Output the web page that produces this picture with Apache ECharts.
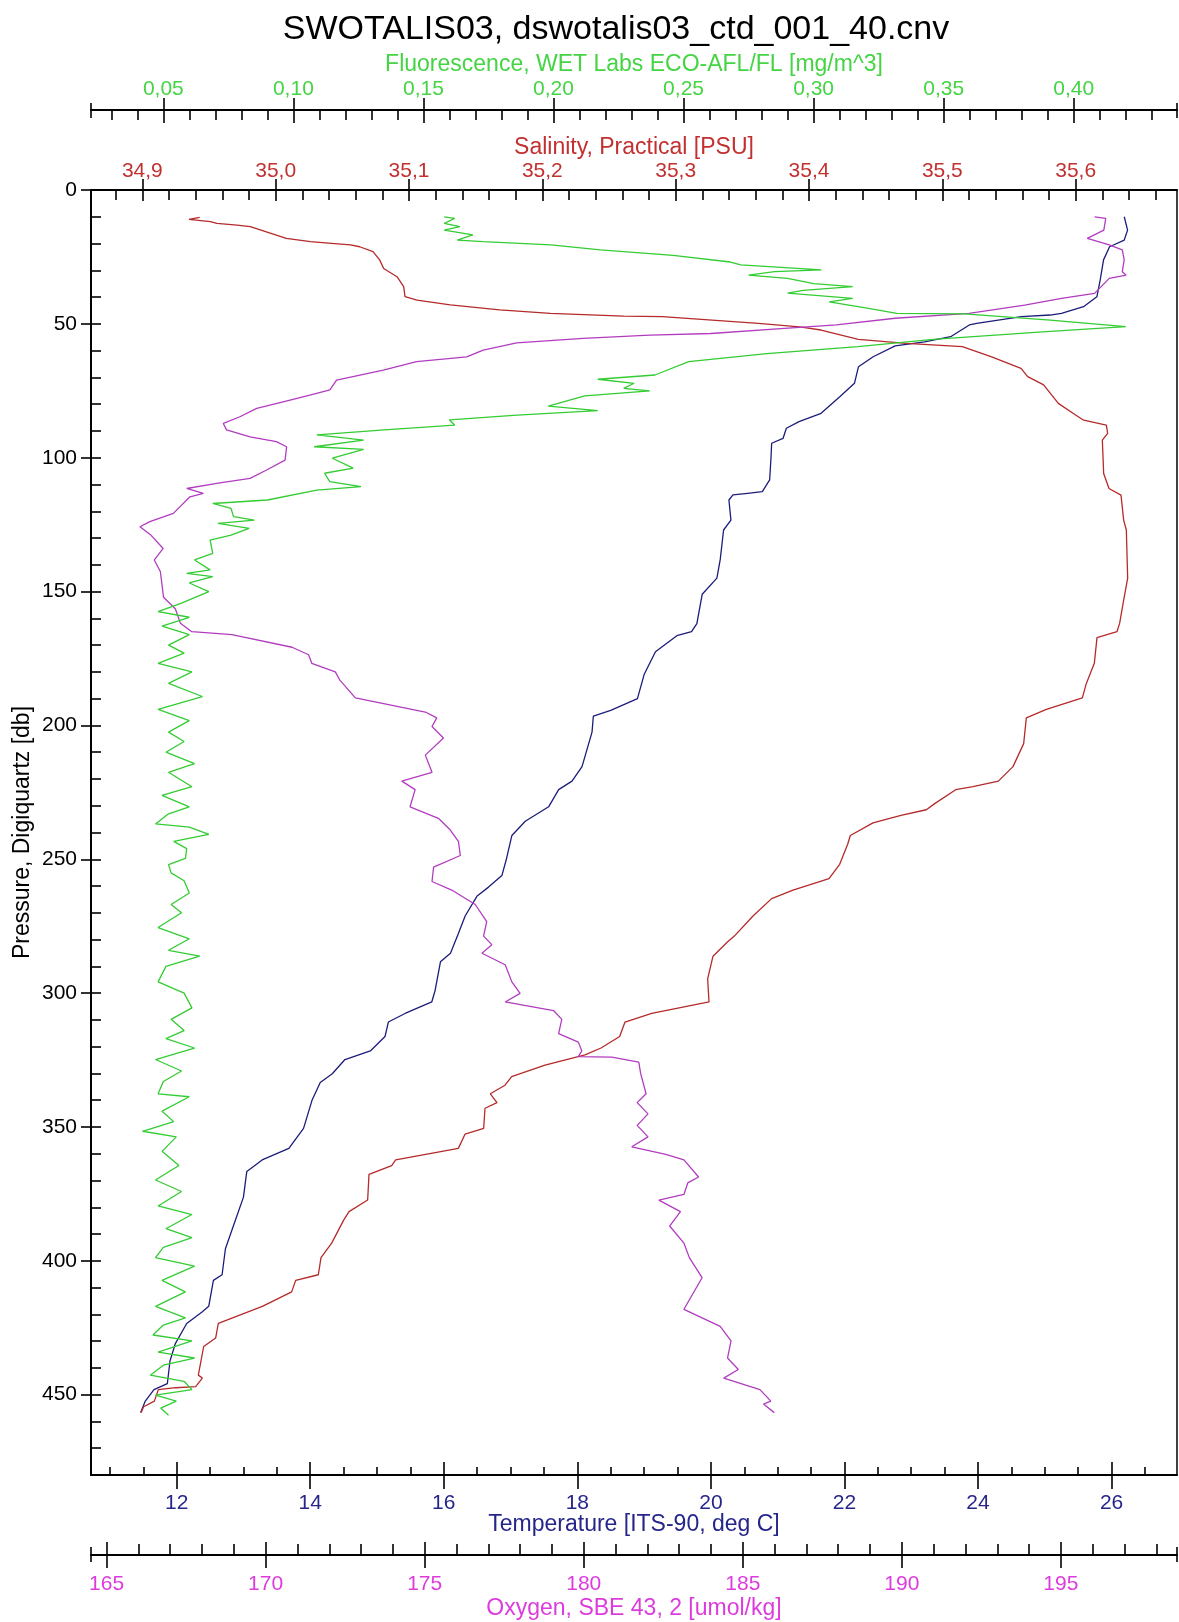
<!DOCTYPE html>
<html><head><meta charset="utf-8">
<script src="https://cdn.jsdelivr.net/npm/echarts@6/dist/echarts.min.js"></script>
<style>html,body{margin:0;padding:0;background:#fff}#c{width:1179px;height:1622px}</style>
</head><body><div id="c"></div>
<script>
// ---------------- DATA ----------------
const tempP = [10,13,15,18.7,21.2,26.1,33.6,39.9,43.6,46.1,46.7,47.3,49.8,50.4,54.8,56.7,58.2,62.3,66,72.2,77.2,83.4,86.5,89,92.8,94.6,100,108.3,112.7,113.3,113.9,115.8,123.3,127,138,145,151,162,165,166.5,172.5,181,190,194.4,196.5,202.5,215.4,220.8,224,230.4,235.8,241.1,249.7,256.1,260.4,263.7,271.2,277.6,285.1,288.3,299,303.3,307.6,310.8,316.2,321.6,324.8,330.1,333.4,339.8,350.5,358,362.3,366.6,376.2,386.9,395.5,405.2,407.3,417,419.1,423.4,430.9,437.4,445.9,448.1,452.4,456.7];
const tempV = [26.19,26.22,26.24,26.19,25.97,25.88,25.83,25.78,25.58,25.25,25.08,24.65,23.98,23.87,23.59,23.2,22.76,22.43,22.21,22.15,21.93,21.65,21.32,21.13,21.08,20.91,20.9,20.88,20.77,20.55,20.33,20.27,20.3,20.19,20.14,20.09,19.87,19.79,19.71,19.49,19.17,19.0,18.9,18.5,18.24,18.22,18.07,17.92,17.72,17.57,17.22,17.02,16.94,16.87,16.67,16.5,16.32,16.22,16.1,15.95,15.87,15.82,15.42,15.17,15.12,14.9,14.52,14.33,14.15,14.03,13.9,13.68,13.28,13.05,13.0,12.85,12.73,12.68,12.55,12.48,12.38,12.15,11.98,11.9,11.86,11.66,11.53,11.46];

const salP = [10.2,11,11.8,12.5,13.1,13.7,15.6,18.1,19.3,20.5,21.2,23,26.1,29.3,32.4,36.1,39.8,41.1,42.9,44.8,46.1,47.1,47.3,49.8,51.1,52.3,55.8,57.3,58.5,62.3,66.6,69.7,72.8,79.7,83.4,86,87.8,90.9,93.4,105.9,111.5,114,123.3,127,145,153.2,161.8,165,167.2,176.8,184.3,189.7,194,197.2,206.8,215.4,220.8,222.9,224,229.3,231.5,233.6,236.4,241.1,244.4,251.9,257.2,261.5,264.7,271.2,278.7,280.8,286.2,294.7,303.3,307.6,310.8,316.2,320.5,323.1,326.9,331.2,334.4,337.6,340.9,343,350.5,352.7,358,362.3,364.4,367.7,377.3,381.6,384.8,393.4,398.8,405.2,407.3,411.6,417,423.4,428.8,432,442.7,443.8,447,447.4,448.1,452.4,454.5,456.7];
const salV = [34.943,34.935,34.951,34.956,34.971,34.981,34.993,35.008,35.026,35.056,35.063,35.073,35.078,35.081,35.091,35.096,35.097,35.106,35.131,35.168,35.206,35.261,35.29,35.362,35.393,35.409,35.437,35.473,35.515,35.537,35.559,35.564,35.576,35.587,35.598,35.606,35.623,35.624,35.62,35.621,35.625,35.634,35.636,35.638,35.639,35.636,35.633,35.631,35.616,35.614,35.608,35.605,35.578,35.563,35.561,35.553,35.542,35.523,35.510,35.494,35.488,35.469,35.448,35.431,35.429,35.423,35.415,35.388,35.372,35.358,35.344,35.339,35.328,35.324,35.325,35.282,35.262,35.258,35.244,35.232,35.202,35.177,35.172,35.161,35.166,35.157,35.156,35.142,35.137,35.09,35.087,35.07,35.069,35.055,35.051,35.042,35.034,35.032,35.015,35.012,34.99,34.957,34.955,34.946,34.942,34.945,34.94,34.925,34.912,34.909,34.901,34.899];

const oxyP = [10,10.6,15,18.1,20.5,22.4,26.1,30.5,31.8,33,38.6,40.5,43,46.1,47.9,50.4,51.7,53.6,54.2,55.4,57.1,59.8,62.3,64.1,67.3,71,74.7,76.6,79.1,81.6,84.7,87.2,89.6,92.2,94,95.9,100.9,104.6,107.7,109.6,111.5,113.3,114.6,120.8,123.9,125.8,129,133.9,138.2,142.5,152.1,156.4,161.8,165,166.1,170.8,173.6,176.8,180,183.2,189.7,195,197.2,200.4,204.7,211.1,217.5,220.8,224,230.4,234.7,239,243.3,248.6,252.9,258.3,261.5,266.9,273.3,278.7,281.9,285.1,289.4,295.8,300.1,303.3,306.5,309.8,315.1,318.3,321.6,323.7,323.9,325.8,330.1,337.6,340.9,345.1,349.4,353.7,357.4,360.2,362.3,368.7,370.9,375.2,377.3,381.6,387,393.4,398.8,406.3,418.1,424.5,429.9,436.3,440.6,443.8,448.1,452.4,453.5,456.7];
const oxyV = [196.06,196.41,196.35,195.83,196.52,196.93,196.99,196.93,197.05,196.52,196.06,195.02,193.86,192.11,189.79,187.94,186.31,183.99,182.08,179.98,177.89,176.84,176.32,174.74,173.7,172.23,172.02,171.39,170.55,169.72,169.19,168.67,168.77,169.51,170.34,170.66,170.61,170.03,169.51,168.46,167.52,168.04,167.62,167.1,166.36,166.05,166.4,166.78,166.5,166.69,166.79,167.16,167.32,167.68,168.94,170.83,171.35,171.45,172.19,172.34,172.82,175.02,175.38,175.23,175.59,175.02,175.23,174.28,174.7,174.54,175.43,175.8,176.06,176.12,175.28,175.23,175.85,176.59,176.95,176.85,177.11,176.8,177.53,177.74,178.0,177.53,179.05,179.31,179.21,179.83,179.94,179.83,180.88,181.73,181.79,181.96,181.68,182.02,181.68,182.02,181.51,182.58,183.15,183.61,183.27,183.15,182.36,183.04,182.7,183.15,183.32,183.72,183.15,184.29,184.63,184.52,184.86,184.4,185.54,185.88,185.65,185.99];

const fluP = [10,10.6,12.5,13.7,15,16.8,18.7,19.3,20.5,22.4,24.4,26.9,28,29.8,30.5,31.8,33,35,36.1,37.5,38.5,40.5,41.8,44,46.1,46.3,48.6,51,53,55.8,58.5,61.1,64.1,69.1,70.7,72.2,74.1,75,76.9,80.7,82.4,84.1,85.9,87.8,89.6,91.5,93.4,95.9,96.9,100.2,103.9,105.8,108.9,110.8,112.1,115.8,117.1,118.9,122,123.3,124.5,126.4,128.9,130.8,135.7,138.2,141.9,143.2,144.4,146.8,150,154.3,157.5,159.6,162.9,166.1,170,173,176.8,180,184.3,189.2,194,198.2,202.5,206,210,214.3,217.5,222.9,226.1,230.4,233,236.8,238,240.7,243.3,246,249.7,252,255.1,258,262.6,266.9,270,275.5,279.7,284,286.2,290,295.8,300,305.5,309.8,314,317,320.5,324.8,329.1,333,337.6,338.7,344.1,348,351.6,353.7,359.1,364.4,369.8,374.1,379.5,382.7,388,391.3,395,398.8,402,407.3,411.6,417,421.3,424,427.7,429.9,434.1,436.3,439,442.7,445,448.1,450.2,452.4,455,457.7];
const fluV = [0.158,0.162,0.158,0.164,0.158,0.169,0.163,0.173,0.199,0.218,0.246,0.268,0.272,0.303,0.285,0.275,0.290,0.300,0.315,0.296,0.290,0.315,0.306,0.320,0.332,0.358,0.391,0.420,0.388,0.346,0.317,0.282,0.252,0.239,0.217,0.231,0.227,0.237,0.212,0.198,0.217,0.186,0.160,0.162,0.135,0.109,0.127,0.108,0.127,0.115,0.123,0.112,0.114,0.126,0.109,0.090,0.069,0.076,0.077,0.085,0.071,0.083,0.076,0.068,0.069,0.062,0.068,0.059,0.069,0.060,0.0675,0.057,0.048,0.060,0.0495,0.060,0.052,0.058,0.048,0.061,0.052,0.065,0.048,0.060,0.052,0.058,0.051,0.062,0.052,0.061,0.0495,0.060,0.052,0.047,0.060,0.0675,0.054,0.059,0.0585,0.052,0.053,0.058,0.060,0.053,0.057,0.048,0.060,0.052,0.064,0.051,0.048,0.058,0.061,0.053,0.058,0.051,0.062,0.047,0.057,0.050,0.048,0.060,0.0495,0.054,0.042,0.055,0.0495,0.056,0.047,0.057,0.048,0.061,0.051,0.061,0.050,0.047,0.062,0.0495,0.0585,0.047,0.0585,0.050,0.046,0.061,0.048,0.062,0.050,0.045,0.058,0.061,0.047,0.055,0.049,0.052];

// tick labels
const salTicks = [34.9,35.0,35.1,35.2,35.3,35.4,35.5,35.6];
const fluTicks = [0.05,0.10,0.15,0.20,0.25,0.30,0.35,0.40];
const tempTicks = [12,14,16,18,20,22,24,26];
const oxyTicks = [165,170,175,180,185,190,195];
const presTicks = [0,50,100,150,200,250,300,350,400,450];

// axis ranges
const salRange = [34.8615, 35.676];
const fluRange = [0.0222, 0.4397];
const tempRange = [10.717, 26.98];
const oxyRange = [164.51, 198.65];
const presRange = [0, 480];

// ---------------- helpers ----------------
const FF = '"Liberation Sans", Arial, Helvetica, sans-serif';
function minorTicks(range, step, majors) {
  const out = [];
  for (let k = Math.ceil(range[0] / step - 1e-9); k * step <= range[1] + 1e-9; k++) {
    const v = +(k * step).toFixed(5);
    if (!majors.some(m => Math.abs(m - v) < step / 10)) out.push(v);
  }
  return out;
}
function pairs(ps, vs) { return ps.map((p, i) => [vs[i], p]); }

function buildAxis(kind, base, cfg) {
  const axes = [];
  const main = Object.assign({}, base, {
    type: 'value', gridIndex: 0, silent: true, splitLine: { show: false },
    name: cfg.name, nameLocation: 'middle', nameGap: cfg.nameGap, nameMoveOverlap: false,
    nameRotate: kind === 'y' ? 90 : 0,
    nameTextStyle: { color: cfg.color, fontSize: 23, fontFamily: FF },
    axisLine: { show: cfg.line !== false, onZero: false, lineStyle: { color: '#000', width: 2 } },
    axisTick: { show: false },
    axisLabel: cfg.labels ? { show: true, customValues: cfg.labels, formatter: cfg.fmt, color: cfg.color,
      fontSize: 21, fontFamily: FF, margin: cfg.margin } : { show: false },
    axisPointer: { show: false }
  });
  axes.push(main);
  (cfg.ticks || []).forEach(t => {
    axes.push(Object.assign({}, base, {
      type: 'value', gridIndex: 0, silent: true, splitLine: { show: false }, name: '',
      axisLine: { show: false, onZero: false },
      axisLabel: { show: false },
      axisTick: { show: true, inside: t.inside, length: t.len, customValues: t.values,
        lineStyle: { color: '#000', width: 1.6 } },
      axisPointer: { show: false }
    }));
  });
  return axes;
}

const fmt1 = v => v.toFixed(1).replace('.', ',');
const fmt2 = v => v.toFixed(2).replace('.', ',');
const fmt0 = v => String(Math.round(v));

// ---------------- axes ----------------
const xAxes = [];
const idx = {};

idx.temp = xAxes.length;
xAxes.push(...buildAxis('x', { position: 'bottom', offset: 0, min: tempRange[0], max: tempRange[1] }, {
  name: 'Temperature [ITS-90, deg C]', nameGap: 38, color: '#26268a', labels: tempTicks, fmt: fmt0, margin: 18,
  ticks: [
    { values: tempTicks, inside: false, len: 14 },
    { values: tempTicks, inside: true, len: 13 },
    { values: minorTicks(tempRange, 0.5, tempTicks), inside: true, len: 8 }
  ]
}));

idx.oxy = xAxes.length;
xAxes.push(...buildAxis('x', { position: 'bottom', offset: 80, min: oxyRange[0], max: oxyRange[1] }, {
  name: 'Oxygen, SBE 43, 2 [umol/kg]', nameGap: 42, color: '#dd3cdd', labels: oxyTicks, fmt: fmt0, margin: 19,
  ticks: [
    { values: oxyTicks, inside: false, len: 13 },
    { values: oxyTicks, inside: true, len: 13 },
    { values: minorTicks(oxyRange, 1, oxyTicks), inside: true, len: 11 },
    { values: oxyRange.slice(), inside: true, len: 8 },
    { values: oxyRange.slice(), inside: false, len: 7 }
  ]
}));

idx.sal = xAxes.length;
xAxes.push(...buildAxis('x', { position: 'top', offset: 0, min: salRange[0], max: salRange[1] }, {
  name: 'Salinity, Practical [PSU]', nameGap: 31, color: '#c23030', labels: salTicks, fmt: fmt1, margin: 8,
  ticks: [
    { values: salTicks, inside: false, len: 11 },
    { values: salTicks, inside: true, len: 11 },
    { values: minorTicks(salRange, 0.02, salTicks), inside: true, len: 10 }
  ]
}));

idx.flu = xAxes.length;
xAxes.push(...buildAxis('x', { position: 'top', offset: 80, min: fluRange[0], max: fluRange[1] }, {
  name: 'Fluorescence, WET Labs ECO-AFL/FL [mg/m^3]', nameGap: 34, color: '#44d444', labels: fluTicks, fmt: fmt2, margin: 10,
  ticks: [
    { values: fluTicks, inside: false, len: 12 },
    { values: fluTicks, inside: true, len: 13 },
    { values: minorTicks(fluRange, 0.01, fluTicks), inside: true, len: 10 },
    { values: fluRange.slice(), inside: true, len: 8 },
    { values: fluRange.slice(), inside: false, len: 7 }
  ]
}));

const yAxes = [];
yAxes.push(...buildAxis('y', { position: 'left', offset: 0, min: presRange[0], max: presRange[1], inverse: true }, {
  name: 'Pressure, Digiquartz [db]', nameGap: 57, color: '#000', labels: presTicks, fmt: fmt0, margin: 14,
  ticks: [
    { values: presTicks, inside: false, len: 10 },
    { values: minorTicks(presRange, 10, [0]).filter(v => v < 480), inside: true, len: 10 }
  ]
}));
yAxes.push(...buildAxis('y', { position: 'right', offset: 0, min: presRange[0], max: presRange[1], inverse: true }, {
  name: '', nameGap: 0, color: '#000', labels: null
}));
yAxes[yAxes.length - 1].axisLine.lineStyle.width = 1.5;

function lineSeries(name, xi, data, color) {
  return { name, type: 'line', xAxisIndex: xi, yAxisIndex: 0, data, symbol: 'none', showSymbol: false,
    smooth: false, clip: true, silent: true, lineStyle: { color, width: 1.3 }, animation: false };
}

const chart = echarts.init(document.getElementById('c'), null, { renderer: 'canvas' });
chart.setOption({
  animation: false,
  backgroundColor: '#ffffff',
  textStyle: { fontFamily: FF },
  title: { text: 'SWOTALIS03, dswotalis03_ctd_001_40.cnv', left: 616, top: 13, textAlign: 'center', padding: 0,
    textStyle: { fontFamily: FF, fontSize: 34, fontWeight: 'normal', color: '#000' } },
  grid: { left: 91, right: 2, top: 190, bottom: 147, containLabel: false, outerBoundsMode: 'none' },
  xAxis: xAxes,
  yAxis: yAxes,
  series: [
    lineSeries('Temperature', idx.temp, pairs(tempP, tempV), '#1c1c7a'),
    lineSeries('Salinity', idx.sal, pairs(salP, salV), '#b52a2a'),
    lineSeries('Oxygen', idx.oxy, pairs(oxyP, oxyV), '#b23cc0'),
    lineSeries('Fluorescence', idx.flu, pairs(fluP, fluV), '#33cc33')
  ]
});
</script>
</body></html>
